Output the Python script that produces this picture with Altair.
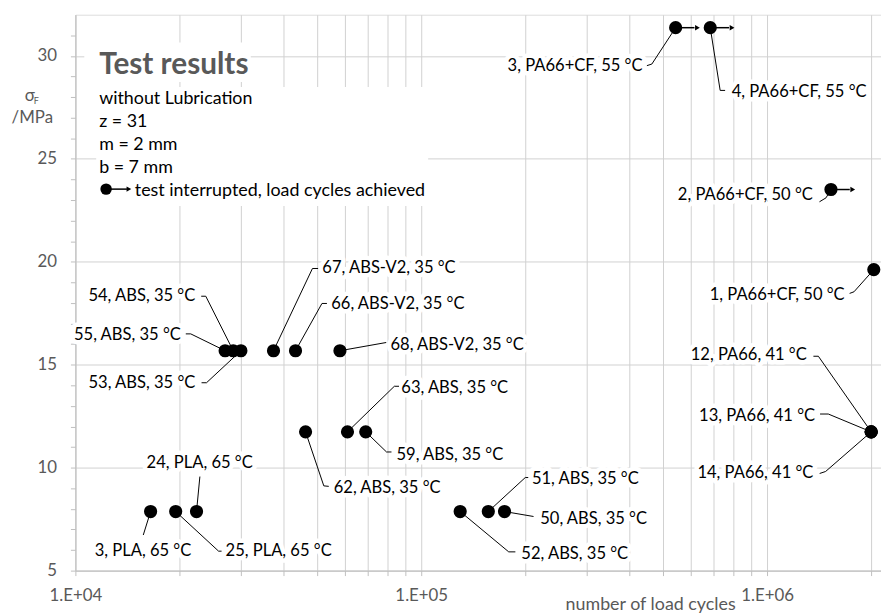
import math
import altair as alt
import pandas as pd

# ---------------- data ----------------
test_no = ["3", "25", "24", "55", "54", "53", "67", "66", "68", "62", "63", "59",
           "52", "51", "50", "12", "13", "14", "1", "2", "3", "4"]
material = ["PLA", "PLA", "PLA", "ABS", "ABS", "ABS", "ABS-V2", "ABS-V2", "ABS-V2",
            "ABS", "ABS", "ABS", "ABS", "ABS", "ABS", "PA66", "PA66", "PA66",
            "PA66+CF", "PA66+CF", "PA66+CF", "PA66+CF"]
temperature = [65, 65, 65, 35, 35, 35, 35, 35, 35, 35, 35, 35, 35, 35, 35,
               41, 41, 41, 50, 50, 55, 55]
load_cycles = [16500, 19500, 22400, 27100, 28600, 30100, 37400, 43300, 58200,
               46300, 61200, 69100, 129600, 156300, 174100,
               2000000, 2000000, 2000000, 2035000, 1530000, 544000, 685000]
stress_mpa = [7.87, 7.87, 7.87, 15.68, 15.68, 15.68, 15.68, 15.68, 15.68,
              11.74, 11.74, 11.74, 7.87, 7.87, 7.87,
              11.74, 11.74, 11.74, 19.62, 23.51, 31.37, 31.37]
interrupted = [False] * 19 + [True, True, True]

x_tick_values = [10000, 20000, 30000, 40000, 50000, 60000, 70000, 80000, 90000,
                 100000, 200000, 300000, 400000, 500000, 600000, 700000, 800000, 900000,
                 1000000, 2000000]
y_tick_values = list(range(5, 32))

legend_lines = ["without Lubrication", "z = 31", "m = 2 mm", "b = 7 mm"]
legend_symbol_text = "test interrupted, load cycles achieved"

# ---------------- label layout (pixel offsets from the point) ----------------
label_dx = [-7.7, 50.3, 3.2, -44.7, -38.3, -46, 49.3, 36, 51, 28.4, 54.3, 31,
            61.7, 44, 36, -65, -56.6, -58.3, -29.4, -18.3, -33.4, 21.6]
label_dy = [39.7, 39.7, -49.3, -16, -55, 32.3, -83, -46.7, -6, 56.3, -44.7, 23.7,
            43.4, -32.3, 7.7, -78, -16.3, 42, 25.7, 6, 38.3, 65]
label_align = ["center", "left", "center", "right", "right", "right", "left", "left",
               "left", "left", "left", "left", "left", "left", "left", "right", "right",
               "right", "right", "right", "right", "left"]
leader_way = [
    [(-7.4, 23.7)],
    [(43.3, 40), (46.3, 40)],
    [(3.4, -35.3)],
    [(-34.7, -17), (-39.7, -17)],
    [(-27.7, -55), (-32.3, -55)],
    [(-34.7, 32.3), (-39.7, 32.3)],
    [(39.3, -83), (45, -83)],
    [(26.7, -47.7), (31.7, -47.7)],
    [(46.7, -8.3)],
    [(18.4, 54.5), (23.4, 55)],
    [(47.3, -46), (52, -46)],
    [(21, 20.3), (26, 20.3)],
    [(49, 40.7), (55.7, 40.7)],
    [(37.3, -34.3), (40.3, -34.3)],
    [(29.3, 5)],
    [(-53.3, -76.3), (-58.3, -76.3)],
    [(-43.3, -18), (-51.6, -18)],
    [(-46, 40), (-52, 42)],
    [(-20, 22.4), (-24.4, 24)],
    [(-5, 8.4), (-11.6, 12.4)],
    [(-24, 36.7), (-29, 38.3)],
    [(10, 63.3), (15, 63.3)],
]

# ---------------- scales ----------------
XMIN, XMAX = 10000, 2135000
YMIN, YMAX = 5, 32
W, H = 813, 561
PXD = W / math.log10(XMAX / XMIN)
PXY = H / (YMAX - YMIN)

FONT = "Lato"
GRAY = "#595959"
GRID = "#d0d0d0"
AXIS = "#bfbfbf"
LABEL_FS = 16.7
LEGEND_FS = 18


def shift(x, y, dx, dy):
    return x * 10 ** (dx / PXD), y - dy / PXY


labels = [f"{n}, {m}, {t} °C" for n, m, t in zip(test_no, material, temperature)]

pts = pd.DataFrame({"x": load_cycles, "y": stress_mpa, "label": labels,
                    "interrupted": interrupted})

lab_rows = []
for i in range(len(labels)):
    lx, ly = shift(load_cycles[i], stress_mpa[i], label_dx[i], label_dy[i])
    lab_rows.append({"x": lx, "y": ly, "label": labels[i], "align": label_align[i]})
lab = pd.DataFrame(lab_rows)

lead_rows = []
for i in range(len(labels)):
    lead_rows.append({"x": load_cycles[i], "y": stress_mpa[i], "lid": i, "k": 0})
    for k, (dx, dy) in enumerate(leader_way[i], start=1):
        lx, ly = shift(load_cycles[i], stress_mpa[i], dx, dy)
        lead_rows.append({"x": lx, "y": ly, "lid": i, "k": k})
lead = pd.DataFrame(lead_rows)

arr = pts[pts["interrupted"]]

x_label_expr = ("datum.value == 10000 ? '1.E+04' : datum.value == 100000 ? '1.E+05' : "
                "datum.value == 1000000 ? '1.E+06' : ''")

xenc = alt.X("x:Q",
             scale=alt.Scale(type="log", domain=[XMIN, XMAX], nice=False),
             axis=alt.Axis(values=x_tick_values, grid=True, gridColor=GRID,
                           labelExpr=x_label_expr, labelOverlap=False, labelFlush=False,
                           tickSize=5, tickColor=AXIS, domainColor=AXIS,
                           labelPadding=12, labelFontSize=17, labelColor=GRAY, labelFont=FONT,
                           title="number of load cycles", titleX=580, titleY=34,
                           titleAlign="center", titleBaseline="middle",
                           titleFont=FONT, titleFontSize=18, titleFontWeight="normal",
                           titleColor=GRAY))
yenc = alt.Y("y:Q",
             scale=alt.Scale(domain=[YMIN, YMAX], nice=False, zero=False),
             axis=alt.Axis(values=y_tick_values, grid=True,
                           gridColor={"condition": {"test": "datum.value % 5 === 0",
                                                    "value": GRID},
                                      "value": "transparent"},
                           labelExpr="datum.value % 5 === 0 ? datum.label : ''",
                           labelOverlap=False, tickSize=5, tickColor=AXIS,
                           domainColor=AXIS, labelPadding=14, labelFontSize=17,
                           labelColor=GRAY, labelFont=FONT, title=None))

one = pd.DataFrame({"a": [0]})

box_title = alt.Chart(one).mark_rect(color="white").encode(
    x=alt.value(9), x2=alt.value(177), y=alt.value(28), y2=alt.value(68))
box_text = alt.Chart(one).mark_rect(color="white").encode(
    x=alt.value(21), x2=alt.value(356), y=alt.value(73), y2=alt.value(193))

title_txt = alt.Chart(one).mark_text(
    text="Test results", font=FONT, fontSize=30, fontWeight="bold", color=GRAY,
    align="left", baseline="alphabetic").encode(x=alt.value(24), y=alt.value(60))

legend_y = [90, 113.5, 136.5, 160]
legend_layers = []
for t, yy in zip(legend_lines, legend_y):
    legend_layers.append(alt.Chart(one).mark_text(
        text=t, font=FONT, fontSize=LEGEND_FS, color="black", align="left",
        baseline="alphabetic").encode(x=alt.value(24), y=alt.value(yy)))
legend_layers.append(alt.Chart(one).mark_text(
    text=legend_symbol_text, font=FONT, fontSize=LEGEND_FS, color="black", align="left",
    baseline="alphabetic").encode(x=alt.value(60), y=alt.value(183)))
legend_layers.append(alt.Chart(one).mark_rule(color="black", strokeWidth=1.5).encode(
    x=alt.value(31), x2=alt.value(52), y=alt.value(176)))
legend_layers.append(alt.Chart(one).mark_point(
    shape="triangle-right", filled=True, color="black", size=30, opacity=1).encode(
    x=alt.value(54), y=alt.value(176)))
legend_layers.append(alt.Chart(one).mark_circle(color="black", size=133, opacity=1).encode(
    x=alt.value(31), y=alt.value(176)))

ytitle = [
    alt.Chart(one).mark_text(text="σ", font=FONT, fontSize=17, color=GRAY,
                             align="center", baseline="middle").encode(
        x=alt.value(-46), y=alt.value(82)),
    alt.Chart(one).mark_text(text="F", font=FONT, fontSize=9, color=GRAY,
                             align="left", baseline="middle").encode(
        x=alt.value(-42), y=alt.value(87)),
    alt.Chart(one).mark_text(text="/MPa", font=FONT, fontSize=17, color=GRAY,
                             align="center", baseline="middle").encode(
        x=alt.value(-43.5), y=alt.value(104)),
]

halo_layers = []
text_layers = []
for a in ["left", "right", "center"]:
    base = alt.Chart(lab).transform_filter(alt.datum.align == a)
    halo_layers.append(base.mark_text(
        align=a, baseline="middle", font=FONT, fontSize=LABEL_FS, color="white",
        stroke="white", strokeWidth=9, strokeJoin="round").encode(
        x=xenc, y=yenc, text="label:N"))
    text_layers.append(base.mark_text(
        align=a, baseline="middle", font=FONT, fontSize=LABEL_FS, color="black").encode(
        x=xenc, y=yenc, text="label:N"))

leaders = alt.Chart(lead).mark_line(color="black", strokeWidth=1).encode(
    x=xenc, y=yenc, detail="lid:N", order="k:Q")

arrow_line = alt.Chart(arr).mark_rule(color="black", strokeWidth=1.5, x2Offset=19).encode(
    x=xenc, x2=alt.X2("x"), y=yenc)
arrow_head = alt.Chart(arr).mark_point(
    shape="triangle-right", filled=True, color="black", size=30, opacity=1,
    xOffset=22).encode(x=xenc, y=yenc)

dots = alt.Chart(pts).mark_circle(color="black", size=177, opacity=1).encode(
    x=xenc, y=yenc)

chart = alt.layer(
    dots.mark_circle(opacity=0, size=1),
    box_title, box_text,
    *halo_layers,
    leaders, arrow_line, arrow_head, dots,
    *text_layers,
    title_txt, *legend_layers, *ytitle,
).properties(
    width=W, height=H,
    autosize=alt.AutoSizeParams(type="none"),
    padding={"left": 68, "top": 4, "right": 0, "bottom": 42},
).configure_view(stroke=GRID).configure(font=FONT)

chart.save("out.html", embed_options={"renderer": "svg", "actions": False})
